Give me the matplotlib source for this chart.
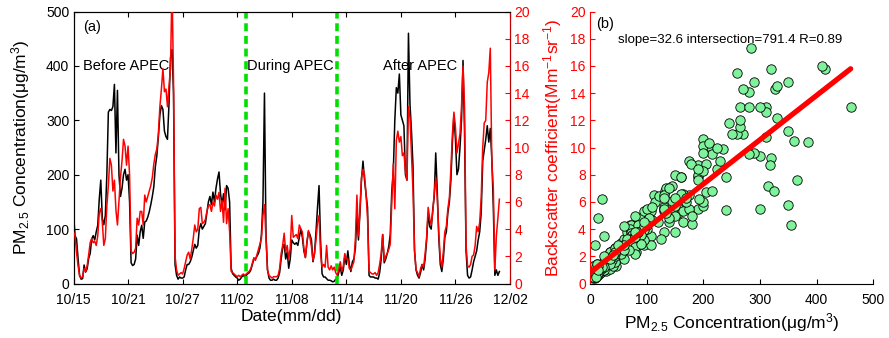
import numpy as np
import matplotlib
matplotlib.use("Agg")
import matplotlib.pyplot as plt

plt.rcParams['font.family'] = ['Liberation Sans', 'DejaVu Sans']
plt.rcParams['mathtext.fontset'] = 'custom'
plt.rcParams['mathtext.rm'] = 'Liberation Sans'
plt.rcParams['mathtext.it'] = 'Liberation Sans:italic'
plt.rcParams['mathtext.bf'] = 'Liberation Sans:bold'

# ---------------- data (4-hourly samples starting 10/15 00:00) ----------------
steps_per_day = 6
pm25 = [
    130, 88, 82, 46, 15, 8,
    9, 34, 21, 27, 46, 55,
    82, 88, 80, 95, 107, 155,
    190, 120, 108, 125, 200, 315,
    320, 318, 325, 366, 240, 355,
    200, 160, 175, 200, 210, 190,
    200, 150, 38, 33, 35, 45,
    89, 70, 95, 107, 83, 113,
    115, 122, 132, 145, 160, 178,
    215, 235, 270, 310, 327, 320,
    280, 270, 265, 330, 415, 430,
    350, 35, 15, 8, 12, 10,
    10, 12, 25, 35, 35, 40,
    48, 60, 72, 65, 70, 100,
    110, 100, 105, 110, 130, 150,
    160, 145, 168, 150, 175, 192,
    205, 165, 145, 165, 135, 180,
    175, 150, 28, 18, 15, 12,
    10, 6, 8, 12, 15, 12,
    15, 18, 20, 25, 35, 45,
    45, 50, 55, 65, 90, 150,
    350, 90, 25, 10, 6, 6,
    8, 6, 6, 10, 20, 45,
    65, 72, 45, 58, 28, 45,
    80, 75, 72, 75, 70, 85,
    100, 85, 60, 48, 75, 95,
    90, 80, 40, 55, 95, 140,
    180, 80, 18, 12, 12, 9,
    6, 6, 5, 3, 4, 8,
    10, 20, 30, 15, 25, 50,
    35, 60, 35, 22, 40, 45,
    65, 130, 80, 130, 190, 225,
    190, 165, 140, 15, 12, 12,
    12, 10, 10, 8, 20, 45,
    90, 38, 45, 55, 68, 90,
    170, 205, 300, 360, 350, 385,
    310, 300, 290, 200, 190, 460,
    330, 280, 215, 60, 25, 15,
    10, 20, 35, 25, 45, 80,
    130, 105, 100, 135, 160, 240,
    170, 85, 35, 22, 45, 85,
    95, 130, 150, 190, 260, 310,
    265, 200, 210, 250, 300, 410,
    280, 60, 15, 10, 12, 25,
    40, 50, 60, 80, 95, 130,
    225, 245, 265, 290, 260, 285,
    230, 140, 15, 25, 15, 22,
]
backscatter = [
    3.8, 3.5, 2.3, 1.3, 0.6, 0.4,
    0.5, 1.1, 0.9, 1.3, 2.1, 3.0,
    3.3, 3.0, 3.1, 2.8, 3.5, 5.2,
    5.5, 4.5, 2.8, 3.3, 5.7, 7.2,
    9.2, 8.7, 6.8, 7.6, 5.4, 4.3,
    6.0, 7.8, 9.0, 10.6, 10.1, 8.7,
    10.1, 8.0, 2.4, 2.2, 2.3, 2.6,
    4.8, 4.3, 5.3, 5.3, 4.3, 6.5,
    6.0, 6.4, 6.8, 7.2, 7.8, 8.8,
    9.5, 9.9, 11.0, 13.0, 14.3, 15.8,
    14.1, 14.3, 13.0, 14.5, 15.8, 22.0,
    14.8, 2.0, 1.0, 0.6, 0.7, 0.8,
    0.7, 1.1, 1.6, 2.1, 2.3, 1.8,
    2.5, 3.3, 4.3, 3.8, 4.0, 5.5,
    5.6, 4.4, 4.5, 4.7, 5.3, 5.7,
    5.8, 5.3, 6.0, 5.7, 6.5, 6.2,
    6.7, 5.3, 6.1, 4.5, 7.0, 4.4,
    5.5, 3.8, 0.9, 0.8, 0.7, 0.6,
    0.5, 0.6, 0.5, 0.6, 0.7, 0.6,
    0.7, 0.8, 0.9, 1.1, 1.5, 1.9,
    1.7, 2.1, 2.5, 2.9, 3.3, 5.0,
    5.8, 3.3, 1.0, 0.6, 0.5, 0.4,
    0.5, 0.5, 0.5, 0.6, 1.1, 2.2,
    2.8, 3.7, 2.3, 2.8, 1.8, 2.6,
    5.0, 3.4, 3.5, 3.6, 3.3, 4.3,
    4.0, 3.8, 2.6, 1.9, 3.0, 3.9,
    3.4, 2.7, 1.7, 2.2, 3.2, 4.5,
    5.0, 2.2, 1.2, 1.4, 1.2, 2.8,
    1.2, 1.0, 1.3, 1.0, 1.2, 0.8,
    0.6, 1.0, 1.6, 0.9, 1.3, 2.2,
    1.8, 1.8, 1.1, 1.0, 1.3, 1.6,
    3.3, 6.5, 3.5, 5.5, 7.8, 8.4,
    8.0, 6.6, 4.8, 0.9, 0.8, 0.7,
    0.7, 0.8, 0.6, 0.8, 1.4, 2.2,
    3.6, 1.7, 2.0, 2.2, 2.5, 2.9,
    6.0, 8.8, 5.5, 10.5, 11.2, 10.4,
    10.8, 9.4, 9.6, 8.3, 7.6, 13.0,
    12.2, 9.5, 6.8, 2.5, 1.0, 0.8,
    0.5, 1.1, 1.4, 1.2, 2.2, 3.4,
    5.6, 4.8, 4.3, 5.2, 6.6, 7.8,
    6.3, 3.8, 1.8, 1.2, 2.3, 3.8,
    4.2, 5.5, 6.3, 8.4, 11.0, 12.6,
    11.5, 9.6, 10.3, 11.0, 13.0, 16.0,
    13.0, 2.8, 1.3, 1.2, 1.4, 2.0,
    2.1, 2.8, 4.2, 3.8, 4.5, 6.3,
    10.0, 11.8, 12.0, 14.8, 15.5, 17.3,
    9.0, 7.0, 1.0, 3.5, 4.8, 6.2,
]
tick_days = [0, 6, 12, 18, 24, 30, 36, 42, 48]
tick_labels = ['10/15', '10/21', '10/27', '11/02', '11/08', '11/14', '11/20', '11/26', '12/02']
apec_bounds = [19, 29]          # days after 10/15 (11/03 and 11/13)
period_labels = ['Before APEC', 'During APEC', 'After APEC']
period_x = [1.0, 19.1, 34.0]
fit_slope = 32.6e-3
fit_intercept = 791.4e-3
fit_r = 0.89

days = np.arange(len(pm25)) / steps_per_day
pm = np.array(pm25, dtype=float)
bsc = np.array(backscatter, dtype=float)

W, H = 889, 338
fig = plt.figure(figsize=(W / 100, H / 100), dpi=100)

# ---------------- panel (a) ----------------
ax = fig.add_axes([73.5 / W, (H - 283.5) / H, 436.5 / W, 272 / H])
ax.plot(days, pm, color='black', lw=1.1, zorder=2)
ax.set_xlim(0, 48)
ax.set_ylim(0, 500)
ax.set_xticks(tick_days)
ax.set_xticklabels(tick_labels)
ax.set_yticks(np.arange(0, 501, 100))
ax.tick_params(direction='in', length=3.5, top=True, right=False, labelsize=10)
ax.tick_params(axis='x', pad=6.5)
ax.tick_params(axis='y', pad=3)
ax.set_xlabel('Date(mm/dd)', fontsize=12.5, labelpad=2)
ax.set_ylabel('PM$_{2.5}$ Concentration(μg/m$^3$)', fontsize=12.5)
ax.yaxis.set_label_coords(-0.095, 0.5)

ax2 = ax.twinx()
for b in apec_bounds:
    ax2.axvline(b, color='#00e000', lw=2.6, ls=(0, (2.2, 1.3)), zorder=1)
ax2.plot(days, bsc, color='red', lw=1.1, zorder=3)
ax2.set_ylim(0, 20)
ax2.set_yticks(np.arange(0, 21, 2))
ax2.tick_params(axis='y', direction='in', length=3.5, colors='red', labelsize=10, pad=3)
ax2.spines['right'].set_color('#c00000')
ax2.set_ylabel('Backscatter coefficient(Mm$^{-1}$sr$^{-1}$)', fontsize=12.5, color='red')
ax2.yaxis.set_label_coords(1.072, 0.5)

ax.text(1.1, 472, '(a)', fontsize=10.5, va='center', ha='left')
for lbl, x in zip(period_labels, period_x):
    ax.text(x, 399, lbl, fontsize=10.5, va='center', ha='left', zorder=5)

# ---------------- panel (b) ----------------
axb = fig.add_axes([590 / W, (H - 283.5) / H, 283.3 / W, 272 / H])
axb.scatter(pm, bsc, s=46, facecolor='#7ff29c', edgecolor='black', linewidth=0.6, zorder=2)
xfit = np.array([0, pm.max()])
axb.plot(xfit, fit_slope * xfit + fit_intercept, color='red', lw=3.8, zorder=3,
         solid_capstyle='round')
axb.set_xlim(0, 500)
axb.set_ylim(0, 20)
axb.set_xticks(np.arange(0, 501, 100))
axb.set_yticks(np.arange(0, 21, 2))
axb.spines['top'].set_visible(False)
axb.spines['right'].set_visible(False)
axb.spines['left'].set_color('red')
axb.tick_params(axis='x', direction='in', length=3.5, labelsize=10, pad=6.5)
axb.tick_params(axis='y', direction='in', length=3.5, colors='red', labelsize=10, pad=3)
axb.set_xlabel('PM$_{2.5}$ Concentration(μg/m$^3$)', fontsize=12.5, labelpad=3)
axb.text(10, 19.1, '(b)', fontsize=10.5, va='center', ha='left')
axb.text(50, 17.9, 'slope=%.1f intersection=%.1f R=%.2f' % (fit_slope * 1000, fit_intercept * 1000, fit_r),
         fontsize=9.5, va='center', ha='left')

fig.savefig('out.png', dpi=100)
